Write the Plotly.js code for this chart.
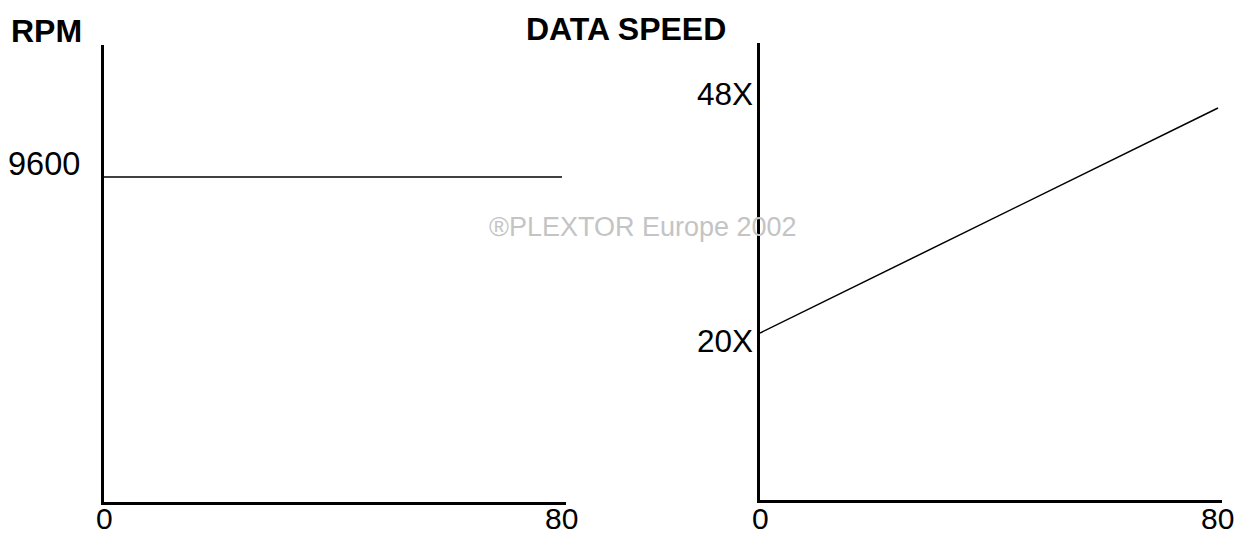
<!DOCTYPE html>
<html>
<head>
<meta charset="utf-8">
<script src="https://cdn.plot.ly/plotly-3.0.1.min.js"></script>
<style>html,body{margin:0;padding:0;background:#fff;}#chart{width:1242px;height:536px;}</style>
</head>
<body>
<div id="chart"></div>
<script>
// Data
const rpmX = [0, 80];
const rpmY = [9600, 9600];
const speedX = [0, 80];
const speedY = [20, 48];
const xTickVals = [0, 80];
const xTickText = ['0', '80'];
const rpmTickVals = [9600];
const rpmTickText = ['9600'];
const speedTickVals = [48, 20];
const speedTickText = ['48X', '20X'];
const speedTickShift = [14, -8];
const titles = ['RPM', 'DATA SPEED'];
const watermark = '\u00AEPLEXTOR Europe 2002';

const W = 1242, H = 536;
const px = v => v / W;
const py = v => 1 - v / H;
const FONT = 'Liberation Sans, Arial, Helvetica, sans-serif';

const traces = [
  {x: rpmX, y: rpmY, xaxis: 'x', yaxis: 'y', mode: 'lines', line: {color: '#000', width: 1.6}, hoverinfo: 'skip'},
  {x: speedX, y: speedY, xaxis: 'x2', yaxis: 'y2', mode: 'lines', line: {color: '#000', width: 1.5}, hoverinfo: 'skip'}
];

const axBase = {
  showgrid: false, zeroline: false, showline: true, linecolor: '#000', linewidth: 3,
  ticks: '', automargin: false, fixedrange: true, showticklabels: false
};

const annotations = [];
annotations.push({xref: 'paper', yref: 'paper', x: px(9), y: py(31), xanchor: 'left', yanchor: 'middle',
  text: '<b>' + titles[0] + '</b>', showarrow: false, font: {family: FONT, size: 32, color: '#000'}});
annotations.push({xref: 'paper', yref: 'paper', x: px(524), y: py(29), xanchor: 'left', yanchor: 'middle',
  text: '<b>' + titles[1] + '</b>', showarrow: false, font: {family: FONT, size: 32, color: '#000'}});
rpmTickVals.forEach((v, i) => annotations.push({xref: 'paper', yref: 'y', x: px(82), y: v, yshift: 13,
  xanchor: 'right', yanchor: 'middle', text: rpmTickText[i], showarrow: false,
  font: {family: FONT, size: 32.5, color: '#000'}}));
speedTickVals.forEach((v, i) => annotations.push({xref: 'paper', yref: 'y2', x: px(755), y: v, yshift: speedTickShift[i],
  xanchor: 'right', yanchor: 'middle', text: speedTickText[i], showarrow: false,
  font: {family: FONT, size: 31.5, color: '#000'}}));
['x', 'x2'].forEach(ax => xTickVals.forEach((v, i) => annotations.push({xref: ax, yref: 'paper', x: v, y: py(518.5),
  xanchor: 'center', yanchor: 'middle', text: xTickText[i], showarrow: false, borderpad: 0,
  font: {family: FONT, size: 30, color: '#000'}})));
annotations.push({xref: 'paper', yref: 'paper', x: px(643), y: py(227), xanchor: 'center', yanchor: 'middle',
  text: watermark, showarrow: false, font: {family: FONT, size: 27, color: '#c4c4c4'}});

const layout = {
  width: W, height: H,
  margin: {l: 0, r: 0, t: 0, b: 0, pad: 0},
  paper_bgcolor: '#fff', plot_bgcolor: '#fff',
  showlegend: false,
  xaxis: Object.assign({}, axBase, {domain: [px(104), px(566)], range: [0, 80.7], anchor: 'y'}),
  yaxis: Object.assign({}, axBase, {domain: [py(502), py(45)], range: [0, 13499], anchor: 'x'}),
  xaxis2: Object.assign({}, axBase, {domain: [px(760), px(1222)], range: [0, 80.7], anchor: 'y2'}),
  yaxis2: Object.assign({}, axBase, {domain: [py(500), py(43)], range: [-0.78, 56.09], anchor: 'x2'}),
  annotations: annotations
};

Plotly.newPlot('chart', traces, layout, {displayModeBar: false, staticPlot: true});
</script>
</body>
</html>
